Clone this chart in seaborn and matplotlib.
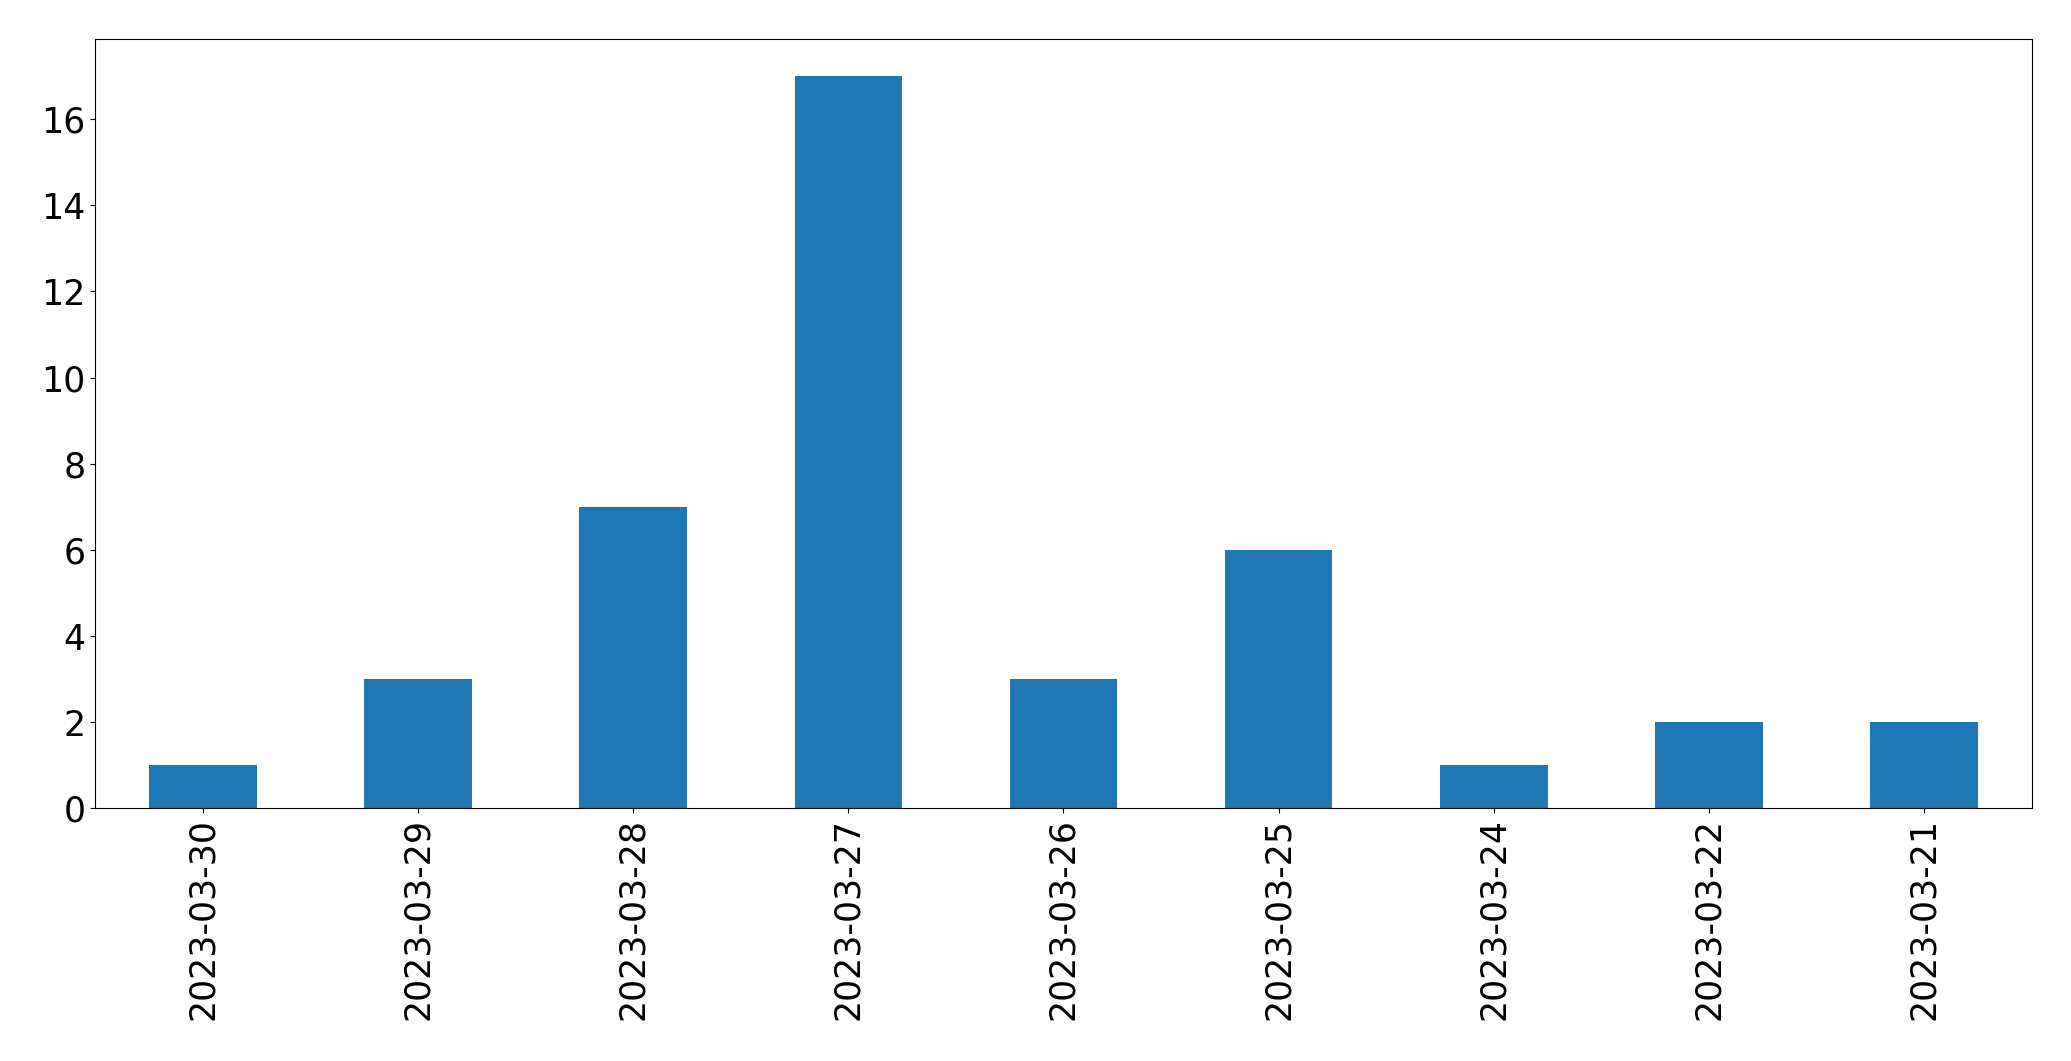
import pandas as pd
import numpy as np
import seaborn as sns
import matplotlib.pyplot as plt

# counts per day
dates = ["2023-03-30", "2023-03-29", "2023-03-28", "2023-03-27", "2023-03-26",
         "2023-03-25", "2023-03-24", "2023-03-22", "2023-03-21"]
counts = [1, 3, 7, 17, 3, 6, 1, 2, 2]

df = pd.DataFrame({"date": dates, "count": counts})

plt.rcParams["font.size"] = 25
fig, ax = plt.subplots(figsize=(20.71, 10.61), dpi=100)
sns.barplot(data=df, x="date", y="count", color="#1f77b4", saturation=1,
            width=0.5, ax=ax)
ax.set_xlim(-0.5, len(dates) - 0.5)
ax.set_xlabel("")
ax.set_ylabel("")
ax.tick_params(axis="x", labelrotation=90)
plt.subplots_adjust(left=0.046, right=0.981, top=0.963, bottom=0.238)
plt.savefig("out.png")
